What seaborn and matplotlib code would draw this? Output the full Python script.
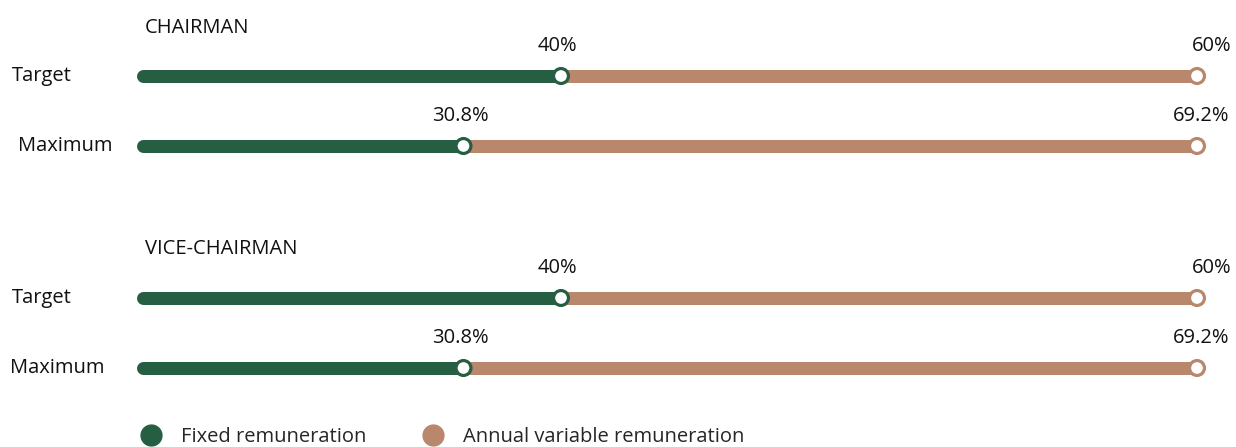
import numpy as np
import pandas as pd
import matplotlib
matplotlib.use("Agg")
import matplotlib.pyplot as plt
from matplotlib.lines import Line2D
import seaborn as sns

# data
groups = ["CHAIRMAN", "VICE-CHAIRMAN"]
rows = ["Target", "Maximum"]
fixed_pct = [40, 30.8, 40, 30.8]
variable_pct = [60, 69.2, 60, 69.2]
fixed_labels = ["40%", "30.8%", "40%", "30.8%"]
variable_labels = ["60%", "69.2%", "60%", "69.2%"]
legend_labels = ["Fixed remuneration", "Annual variable remuneration"]

green = "#265e43"
tan = "#b8876c"

df = pd.DataFrame({
    "group": np.repeat(groups, 2),
    "row": rows * 2,
    "fixed": fixed_pct,
    "variable": variable_pct,
    "fixed_lbl": fixed_labels,
    "var_lbl": variable_labels,
})
df["total"] = df["fixed"] + df["variable"]

sns.set_theme(style="white")
plt.rcParams["font.family"] = ["Open Sans", "DejaVu Sans"]

W, H = 1236, 447
fig = plt.figure(figsize=(W / 100, H / 100), dpi=100)
ax = fig.add_axes([0, 0, 1, 1])
# x in percent, y in pixel rows from top
px_per_pct = 10.6
x0 = 137
ax.set_xlim(-x0 / px_per_pct, (W - x0) / px_per_pct)
ax.set_ylim(H, 0)
ax.axis("off")

row_y = [76, 146, 298, 368]
label_x = [12, 18, 12, 10]
title_y = [28, 249]
bar_px = 13
lw = bar_px * 0.72
cap = (bar_px / 2) / px_per_pct  # keep the rounded cap inside 0%

fs = 14.5
txt = "#111111"

for i, r in df.iterrows():
    y = row_y[i]
    ax.plot([cap, r["fixed"]], [y, y], color=green, lw=lw, solid_capstyle="round", zorder=2)
    ax.plot([r["fixed"], r["total"]], [y, y], color=tan, lw=lw, solid_capstyle="butt", zorder=1)
    ax.text((label_x[i] - x0) / px_per_pct, y, r["row"], ha="left", va="center",
            fontsize=fs, color=txt)
    ax.text(r["fixed"] - 0.3, y - 30, r["fixed_lbl"], ha="center", va="center",
            fontsize=fs, color=txt)
    end_off = 1.4 if r["var_lbl"] == "60%" else 0.4
    ax.text(r["total"] + end_off, y - 30, r["var_lbl"], ha="center", va="center",
            fontsize=fs, color=txt)

pts = pd.DataFrame({
    "x": list(df["fixed"]) + list(df["total"]),
    "y": row_y + row_y,
    "kind": ["fixed"] * 4 + ["variable"] * 4,
})
sns.scatterplot(data=pts, x="x", y="y", hue="kind", palette={"fixed": green, "variable": tan},
                s=115, linewidth=2.3, legend=False, ax=ax, zorder=3)
for c in ax.collections:
    c.set_facecolor("white")
    c.set_edgecolors([green] * 4 + [tan] * 4)

for g, ty in zip(groups, title_y):
    ax.text((145 - x0) / px_per_pct, ty, g, ha="left", va="center", fontsize=fs, color=txt)

handles = [Line2D([], [], marker="o", ls="", color=c, markersize=15) for c in (green, tan)]
fig.legend(handles, legend_labels, ncol=2, loc="upper left", frameon=False,
           bbox_to_anchor=(123 / W, 1 - 419 / H), fontsize=fs,
           handletextpad=0.5, columnspacing=2.3, borderaxespad=0)

fig.savefig("out.png", dpi=100)
